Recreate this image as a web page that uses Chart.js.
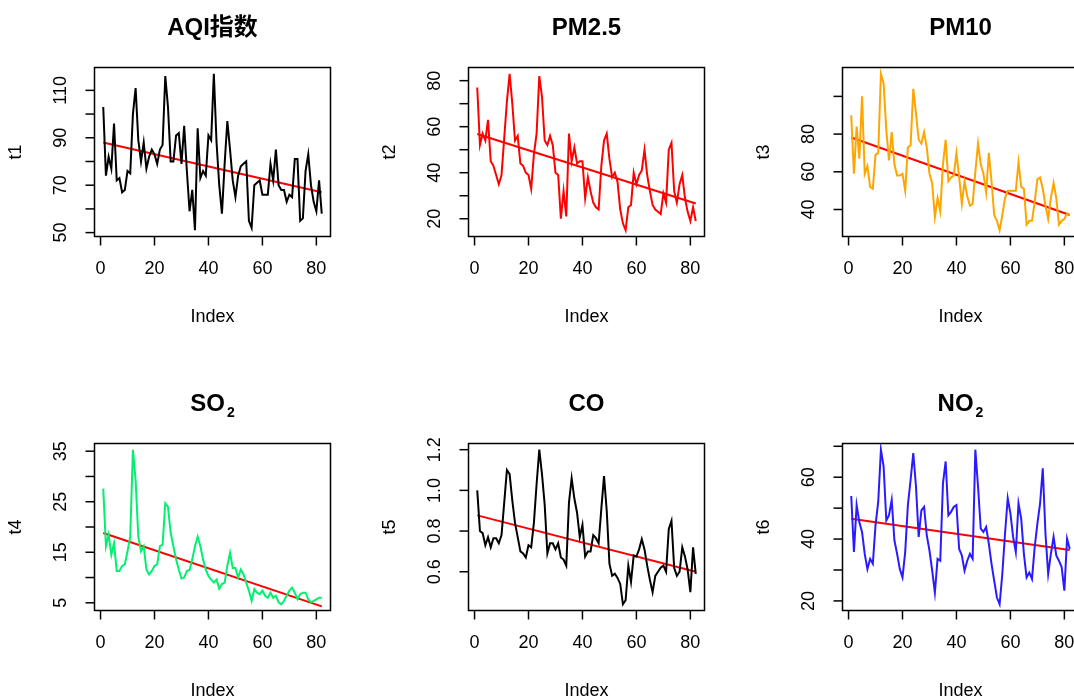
<!DOCTYPE html>
<html>
<head>
<meta charset="utf-8">
<script src="https://cdn.jsdelivr.net/npm/chart.js@4.4.0/dist/chart.umd.min.js"></script>
<style>
  html, body { margin: 0; padding: 0; background: #fff; overflow: hidden; width: 1074px; height: 700px; }
  canvas { position: absolute; }
</style>
</head>
<body>
<canvas id="c1" width="374" height="376" style="left:0px;top:0px"></canvas>
<canvas id="c2" width="374" height="376" style="left:374px;top:0px"></canvas>
<canvas id="c3" width="374" height="376" style="left:748px;top:0px"></canvas>
<canvas id="c4" width="374" height="376" style="left:0px;top:376px"></canvas>
<canvas id="c5" width="374" height="376" style="left:374px;top:376px"></canvas>
<canvas id="c6" width="374" height="376" style="left:748px;top:376px"></canvas>
<script>
// valores diarios (indice 1..82)
const aqi = [103, 74, 82, 77, 96, 72, 73, 67, 68, 76,
  75, 100, 111, 89, 80, 88, 77, 82, 85, 83,
  79, 85, 87, 116, 103, 80, 80, 91, 92, 79,
  95, 76, 59, 68, 51, 94, 73, 76, 74, 91,
  89, 117, 88, 70, 58, 79, 97, 85, 72, 65,
  74, 78, 79, 80, 55, 52, 70, 71, 72, 66,
  66, 66, 79, 72, 85, 70, 68, 68, 63, 66,
  65, 81, 81, 55, 56, 76, 83, 70, 63, 59, 72, 58];
const pm25 = [77, 52, 57, 54, 63, 45, 43, 39, 35, 39,
  55, 71, 83, 70, 54, 56, 44, 43, 40, 39,
  33, 48, 57, 82, 73, 54, 52, 56, 52, 40,
  39, 20, 32, 21, 57, 45, 51, 44, 45, 45,
  29, 38, 32, 27, 25, 24, 43, 54, 57, 46,
  38, 40, 36, 24, 18, 15, 25, 26, 40, 35,
  39, 41, 50, 39, 32, 26, 24, 23, 22, 31,
  27, 50, 53, 32, 27, 35, 39, 29, 23, 19, 25, 19];
const pm10 = [90, 59, 84, 67, 100, 59, 63, 52, 51, 69,
  70, 112, 107, 82, 66, 81, 64, 58, 58, 59,
  50, 73, 74, 104, 91, 77, 75, 81, 73, 59,
  54, 36, 46, 39, 64, 77, 55, 57, 58, 70,
  57, 43, 55, 47, 42, 43, 60, 75, 64, 59,
  49, 70, 55, 37, 34, 29, 37, 46, 50, 50,
  50, 50, 65, 52, 51, 32, 34, 34, 44, 56,
  57, 51, 42, 35, 46, 54, 46, 32, 34, 35, 38, 37];
const so2 = [27.6, 16.2, 18.5, 14.5, 16.8, 11.3, 11.3, 12.3, 12.6, 15.2,
  18.1, 35.3, 29.2, 18.1, 15.2, 16.2, 11.6, 10.6, 11.3, 12.3,
  12.6, 16.2, 16.5, 24.7, 24.0, 18.8, 16.2, 13.6, 11.6, 9.8,
  10.0, 11.3, 11.5, 13.6, 16.2, 18.1, 16.2, 13.6, 11.6, 10.3,
  9.6, 9.0, 9.6, 7.8, 8.7, 9.0, 12.3, 14.9, 11.9, 11.9,
  10.0, 11.6, 10.6, 9.0, 7.4, 5.4, 7.7, 7.0, 6.7, 7.4,
  6.4, 6.0, 7.0, 6.0, 6.4, 5.1, 4.7, 5.4, 6.4, 7.4,
  8.0, 7.0, 5.7, 6.7, 7.0, 7.0, 5.7, 5.1, 5.4, 5.7, 6.0, 6.0];
const co = [1.00, 0.80, 0.79, 0.73, 0.77, 0.72, 0.765, 0.765, 0.74, 0.78,
  0.94, 1.10, 1.08, 0.95, 0.84, 0.77, 0.70, 0.69, 0.67, 0.73,
  0.72, 0.84, 1.03, 1.20, 1.08, 0.93, 0.69, 0.74, 0.74, 0.71,
  0.74, 0.67, 0.66, 0.63, 0.94, 1.06, 0.96, 0.89, 0.77, 0.83,
  0.675, 0.70, 0.70, 0.78, 0.765, 0.74, 0.91, 1.07, 0.90, 0.64,
  0.58, 0.59, 0.57, 0.54, 0.44, 0.46, 0.63, 0.55, 0.68, 0.675,
  0.71, 0.76, 0.71, 0.63, 0.56, 0.50, 0.58, 0.60, 0.62, 0.63,
  0.60, 0.81, 0.85, 0.62, 0.58, 0.60, 0.72, 0.675, 0.61, 0.50, 0.72, 0.59];
const no2 = [53.9, 35.8, 51, 45.5, 42.3, 35.2, 30.3, 33.6, 32, 44.5,
  52, 68.9, 63.5, 46, 47.7, 52.6, 39.6, 35.2, 30.3, 27.6,
  35.8, 51, 59.1, 67.8, 57, 40.7, 49.3, 50.4, 41.2, 36.3,
  29.8, 22.7, 33.6, 33, 58, 65.1, 47.7, 48.8, 50.4, 51,
  36.8, 34.7, 29.8, 33, 35.2, 33.6, 68.9, 57, 43.4, 42.3,
  43.9, 38.5, 32, 26.5, 21.1, 18.9, 28.7, 41.7, 53.2, 48.3,
  40.7, 35.8, 51.5, 46.6, 35.2, 27.6, 29.2, 27.1, 37.4, 45,
  51.5, 62.9, 41.7, 28.7, 35.2, 40.7, 34.7, 33, 30.9, 23.3, 40.1, 36.8];

// recta de tendencia: valor en el indice 1 y en el indice 82
const trendAqi = [88, 67];
const trendPm25 = [56.8, 26.6];
const trendPm10 = [78.2, 37.1];
const trendSo2 = [18.8, 4.3];
const trendCo = [0.877, 0.60];
const trendNo2 = [46.6, 36.5];

// ticks de los ejes
const xTicks = [0, 20, 40, 60, 80];
const yTicksAqi = [50, 60, 70, 80, 90, 100, 110];
const yLabelsAqi = ['50', '', '70', '', '90', '', '110'];
const yTicksPm25 = [20, 30, 40, 50, 60, 70, 80];
const yLabelsPm25 = ['20', '', '40', '', '60', '', '80'];
const yTicksPm10 = [40, 60, 80, 100];
const yLabelsPm10 = ['40', '60', '80', ''];
const yTicksSo2 = [5, 10, 15, 20, 25, 30, 35];
const yLabelsSo2 = ['5', '', '15', '', '25', '', '35'];
const yTicksCo = [0.6, 0.8, 1.0, 1.2];
const yLabelsCo = ['0.6', '0.8', '1.0', '1.2'];
const yTicksNo2 = [20, 30, 40, 50, 60, 70];
const yLabelsNo2 = ['20', '', '40', '', '60', ''];

const panels = [
  { id: 'c1', row: 0, title: 'AQI指数', sub: '', yName: 't1', values: aqi, trend: trendAqi, color: '#000000', yTicks: yTicksAqi, yLabels: yLabelsAqi },
  { id: 'c2', row: 0, title: 'PM2.5', sub: '', yName: 't2', values: pm25, trend: trendPm25, color: '#FF0000', yTicks: yTicksPm25, yLabels: yLabelsPm25 },
  { id: 'c3', row: 0, title: 'PM10', sub: '', yName: 't3', values: pm10, trend: trendPm10, color: '#FFA500', yTicks: yTicksPm10, yLabels: yLabelsPm10 },
  { id: 'c4', row: 1, title: 'SO', sub: '2', yName: 't4', values: so2, trend: trendSo2, color: '#00F070', yTicks: yTicksSo2, yLabels: yLabelsSo2 },
  { id: 'c5', row: 1, title: 'CO', sub: '', yName: 't5', values: co, trend: trendCo, color: '#000000', yTicks: yTicksCo, yLabels: yLabelsCo },
  { id: 'c6', row: 1, title: 'NO', sub: '2', yName: 't6', values: no2, trend: trendNo2, color: '#2A1AFF', yTicks: yTicksNo2, yLabels: yLabelsNo2 }
];

const FONT = '"Liberation Sans", Arial, "Noto Sans CJK SC", sans-serif';

// ejes estilo R: caja, marcas hacia fuera, etiquetas del eje y giradas
function rAxes(p) {
  return {
    id: 'rAxes',
    afterDraw(chart) {
      const ctx = chart.ctx;
      const a = chart.chartArea;
      const x = chart.scales.x, y = chart.scales.y;
      ctx.save();
      ctx.strokeStyle = '#000';
      ctx.fillStyle = '#000';
      ctx.lineWidth = 1.5;
      ctx.strokeRect(a.left, a.top, a.right - a.left, a.bottom - a.top);

      ctx.font = '18px ' + FONT;
      ctx.textAlign = 'center';
      ctx.textBaseline = 'middle';
      xTicks.forEach(v => {
        const px = x.getPixelForValue(v);
        ctx.beginPath(); ctx.moveTo(px, a.bottom); ctx.lineTo(px, a.bottom + 9); ctx.stroke();
        ctx.fillText(String(v), px, a.bottom + 33);
      });
      ctx.fillText('Index', (a.left + a.right) / 2, a.bottom + 81);

      p.yTicks.forEach((v, i) => {
        const py = y.getPixelForValue(v);
        ctx.beginPath(); ctx.moveTo(a.left, py); ctx.lineTo(a.left - 9, py); ctx.stroke();
        if (p.yLabels[i]) {
          ctx.save();
          ctx.translate(a.left - 33, py);
          ctx.rotate(-Math.PI / 2);
          ctx.fillText(p.yLabels[i], 0, 0);
          ctx.restore();
        }
      });
      ctx.save();
      ctx.translate(a.left - 78, (a.top + a.bottom) / 2);
      ctx.rotate(-Math.PI / 2);
      ctx.fillText(p.yName, 0, 0);
      ctx.restore();

      // titulo
      const cx = (a.left + a.right) / 2;
      ctx.font = 'bold 24px ' + FONT;
      const w1 = ctx.measureText(p.title).width;
      let w2 = 0;
      if (p.sub) { ctx.font = 'bold 14px ' + FONT; w2 = ctx.measureText(p.sub).width + 2; }
      ctx.textAlign = 'left';
      ctx.textBaseline = 'alphabetic';
      ctx.font = 'bold 24px ' + FONT;
      const x0 = cx - (w1 + w2) / 2;
      ctx.fillText(p.title, x0, a.top - 33);
      if (p.sub) {
        ctx.font = 'bold 14px ' + FONT;
        ctx.fillText(p.sub, x0 + w1 + 2, a.top - 27);
      }
      ctx.restore();
    }
  };
}

panels.forEach(p => {
  const lo = Math.min(...p.values), hi = Math.max(...p.values);
  const pad = (hi - lo) * 0.04;
  const n = p.values.length;
  new Chart(document.getElementById(p.id), {
    type: 'line',
    data: {
      datasets: [{
        data: p.values.map((v, i) => ({ x: i + 1, y: v })),
        borderColor: p.color,
        borderWidth: 2,
        pointRadius: 0,
        tension: 0
      }, {
        data: [{ x: 1, y: p.trend[0] }, { x: n, y: p.trend[1] }],
        borderColor: '#FF0000',
        borderWidth: 2,
        pointRadius: 0
      }]
    },
    options: {
      responsive: false,
      animation: false,
      devicePixelRatio: 1,
      events: [],
      layout: { padding: { left: 94.5, top: 67.5, right: 43.5, bottom: p.row === 0 ? 139.5 : 141.5 } },
      plugins: { legend: { display: false }, tooltip: { enabled: false } },
      scales: {
        x: { type: 'linear', display: false, min: 1 - (n - 1) * 0.04, max: n + (n - 1) * 0.04 },
        y: { type: 'linear', display: false, min: lo - pad, max: hi + pad }
      }
    },
    plugins: [rAxes(p)]
  });
});
</script>
</body>
</html>
